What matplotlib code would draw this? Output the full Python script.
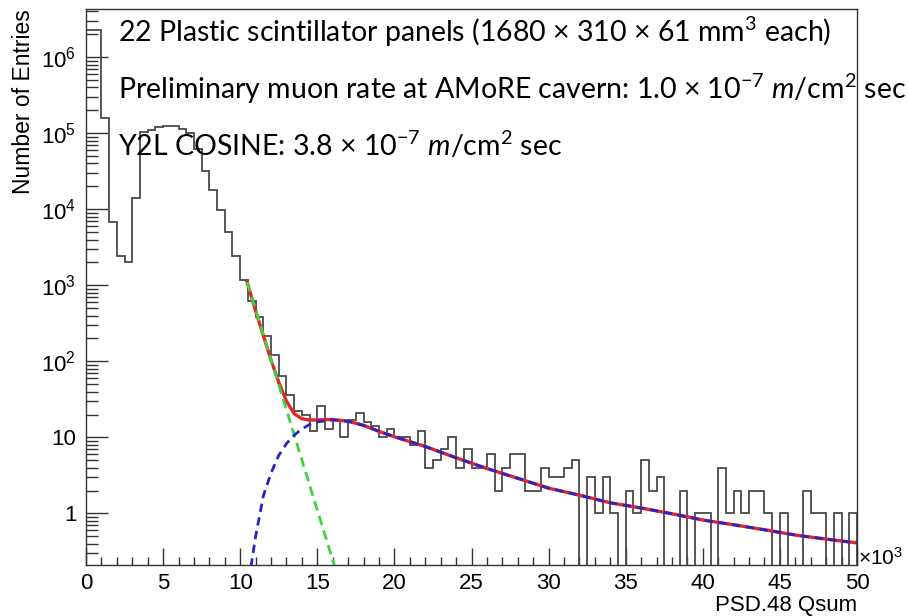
import numpy as np
import matplotlib
matplotlib.use('Agg')
import matplotlib.pyplot as plt
from matplotlib.ticker import MultipleLocator, LogLocator, FuncFormatter, NullFormatter

plt.rcParams['font.family'] = 'Liberation Sans'
plt.rcParams['mathtext.fontset'] = 'custom'
plt.rcParams['mathtext.rm'] = 'Lato'
plt.rcParams['mathtext.it'] = 'Lato:italic'

# PSD.48 Qsum histogram, 0.5k wide bins from 0 to 50k
bin_edges = np.linspace(0, 50, 101)
counts = [
    2.3e6, 2.3e6, 1.6e5, 6800, 2450, 2000, 14000, 1.05e5, 1.1e5, 1.22e5,
    1.25e5, 1.25e5, 1.12e5, 1.0e5, 6.2e4, 3.2e4, 1.8e4, 9700, 5000, 2450,
    1170, 620, 380, 215, 120, 64, 36, 22, 20, 12,
    26, 13, 17, 10, 17, 21, 16, 14, 10, 13,
    10, 10, 8, 12, 4, 5, 7, 10, 4, 7,
    4, 4, 6, 2, 4, 6, 6, 2, 2, 4,
    3, 3, 4, 5, 0, 3, 1, 3, 1, 0,
    2, 1, 5, 2, 3, 0, 0, 2, 0, 1,
    1, 0, 4, 1, 2, 1, 2, 2, 1, 0,
    1, 0, 0, 2, 1, 1, 0, 1, 0, 1,
]

# fit components (x in units of 10^3)
expo_x = [10.45, 16.2]
expo_y = [1100, 0.18]

landau_x = [10.7, 11.0, 11.5, 12.0, 12.5, 13.0, 13.5, 14.0, 14.5, 15.0,
            16.0, 17.0, 18.0, 19.0, 20.0, 22.0, 24.0, 26.0, 28.0, 30.0,
            32.0, 34.0, 36.0, 38.0, 40.0, 42.0, 44.0, 46.0, 48.0, 50.0]
landau_y = [0.2, 0.5, 1.7, 3.4, 5.8, 8.3, 10.7, 12.9, 14.8, 16.0,
            17.0, 16.3, 14.4, 12.0, 10.2, 7.6, 5.4, 3.9, 2.9, 2.15,
            1.74, 1.38, 1.18, 0.99, 0.82, 0.71, 0.61, 0.52, 0.46, 0.41]

total_x = [10.45, 11.0, 11.5, 12.0, 12.5, 13.0, 13.5, 14.0, 14.5, 15.0,
           16.0, 17.0, 18.0, 19.0, 20.0, 22.0, 24.0, 26.0, 28.0, 30.0,
           32.0, 34.0, 36.0, 38.0, 40.0, 42.0, 44.0, 46.0, 48.0, 50.0]
total_y = [1100, 460, 218, 104, 53, 30, 20.5, 17.6, 16.9, 17.0,
           17.2, 16.3, 14.4, 12.0, 10.2, 7.6, 5.4, 3.9, 2.9, 2.15,
           1.74, 1.38, 1.18, 0.99, 0.82, 0.71, 0.61, 0.52, 0.46, 0.41]

fig = plt.figure(figsize=(9.08, 6.16), dpi=100)
ax = fig.add_axes([86 / 908, 51 / 616, 771 / 908, 556 / 616])

ax.stairs(counts, bin_edges, color='#4a4a4a', lw=1.3, zorder=2)
ax.plot(total_x, total_y, color='#e3242b', lw=2.4, zorder=3)
ax.plot(expo_x, expo_y, color='#3fd43f', lw=2.0, ls=(0, (3.5, 2)), zorder=4)
ax.plot(landau_x, landau_y, color='#2424c8', lw=2.0, ls=(0, (3, 2)), zorder=5)

ax.set_yscale('log')
ax.set_xlim(0, 50)
ax.set_ylim(0.21, 4.3e6)

ax.xaxis.set_major_locator(MultipleLocator(5))
ax.xaxis.set_minor_locator(MultipleLocator(1))
ax.xaxis.set_major_formatter(FuncFormatter(lambda v, p: '%d' % v))

ax.yaxis.set_major_locator(LogLocator(base=10, numticks=20))
ax.yaxis.set_minor_locator(LogLocator(base=10, subs=np.arange(2, 10), numticks=20))
ax.yaxis.set_minor_formatter(NullFormatter())


def ylab(v, pos):
    if v == 1:
        return '1'
    if v == 10:
        return '10'
    return r'$\mathregular{10^{%d}}$' % round(np.log10(v))


ax.yaxis.set_major_formatter(FuncFormatter(ylab))

ax.tick_params(which='both', direction='in', top=False, right=False,
               color='#333333', width=1)
ax.tick_params(axis='x', which='major', length=12, pad=6, labelsize=16)
ax.tick_params(axis='x', which='minor', length=6)
ax.tick_params(axis='y', which='major', length=16, pad=7, labelsize=16)
ax.tick_params(axis='y', which='minor', length=8.5)
for s in ax.spines.values():
    s.set_color('#333333')
    s.set_linewidth(1.0)

ax.set_xlabel('PSD.48 Qsum', fontsize=16, loc='right')
ax.xaxis.set_label_coords(1.0, -0.054)
ax.set_ylabel('Number of Entries', fontsize=16.5, loc='top')
ax.yaxis.set_label_coords(-0.066, 1.0)

fig.text(858 / 908, 51 / 616, r'$\mathregular{×10^{3}}$', fontsize=15,
         ha='left', va='baseline')

# run summary
notes = [
    r'22 Plastic scintillator panels (1680 × 310 × 61 mm$^{3}$ each)',
    r'Preliminary muon rate at AMoRE cavern: 1.0 × 10$^{-7}$ $m$/cm$^{2}$ sec',
    r'Y2L COSINE: 3.8 × 10$^{-7}$ $m$/cm$^{2}$ sec',
]
for txt, yb in zip(notes, [0.9406, 0.838, 0.7356]):
    ax.text(0.0415, yb, txt, transform=ax.transAxes, family='Lato',
            fontsize=20.5, ha='left', va='baseline', color='black', zorder=6)

fig.savefig('out.png', dpi=100)
